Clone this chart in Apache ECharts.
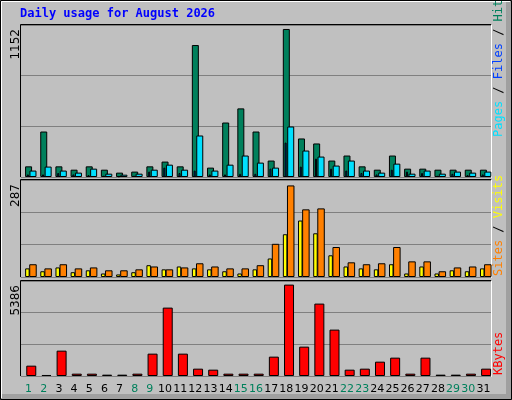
<!DOCTYPE html>
<html><head><meta charset="utf-8">
<script src="https://cdn.jsdelivr.net/npm/echarts@6/dist/echarts.min.js"></script>
<style>html,body{margin:0;padding:0;background:#fff}#c{width:512px;height:400px}</style>
</head><body><div id="c"></div>
<script>
const days = ['1','2','3','4','5','6','7','8','9','10','11','12','13','14','15','16','17','18','19','20','21','22','23','24','25','26','27','28','29','30','31'];
const weekend = ['1','2','8','9','15','16','22','23','29','30'];
const hits = [83,354,83,57,83,57,34,42,83,120,83,1027,73,424,534,354,128,1152,300,261,128,167,83,57,167,65,65,57,57,57,57];
const files = [50,81,50,34,65,26,18,26,57,96,57,323,50,96,167,112,73,393,206,159,89,128,50,34,104,26,50,26,42,34,42];
const pages = [20,20,31,20,15,10,5,10,42,73,31,50,20,20,25,25,65,268,81,143,65,50,31,20,57,42,31,10,25,15,20];
const visits = [40,27,40,27,30,21,21,24,33,24,30,43,33,27,27,37,104,287,212,215,94,46,40,43,94,49,49,18,30,33,40];
const sites = [27,18,30,15,21,11,8,15,37,24,33,27,24,18,11,24,58,134,177,137,68,33,27,24,40,11,33,11,21,18,27];
const kbytes = [609,60,1494,138,138,79,79,138,1317,4030,1317,432,373,138,138,138,1140,5386,1730,4266,2733,373,432,845,1081,138,1081,79,79,138,432];
const maxLabels = ['1152','287','5386'];

const W = 470, L = 21;
const panels = [
  {top:25, h:152, max:1183},
  {top:180, h:97, max:304},
  {top:281, h:95, max:5598}
];
const grids=[], xAxes=[], yAxes=[], series=[];
function addGrid(p, dx, show, xlabels) {
  const i = grids.length;
  grids.push({left:L+dx, top:p.top, width:W, height:p.h, show:false});
  xAxes.push({type:'category', gridIndex:i, data:days, show:!!xlabels,
    axisLine:{show:false}, axisTick:{show:false},
    axisLabel:{show:!!xlabels, interval:0, margin:8, fontFamily:'DejaVu Sans', fontSize:11,
      formatter:v=>weekend.includes(v)?'{w|'+v+'}':v, color:'#000', rich:{w:{color:'#00805c',fontFamily:'DejaVu Sans',fontSize:11}}}});
  yAxes.push({type:'value', gridIndex:i, min:0, max:p.max, interval:p.max/3, show:show,
    axisLine:{show:false}, axisTick:{show:false}, axisLabel:{show:false},
    splitLine:{show:show, lineStyle:{color:'#808080', width:1}}});
  return i;
}
function bar(gi, data, color, w) {
  series.push({type:'bar', xAxisIndex:gi, yAxisIndex:gi, data:data, barWidth:w, barGap:'0%',
    itemStyle:{color:color, borderColor:'#000', borderWidth:1}, animation:false, silent:true});
}
let g = addGrid(panels[0], 0, true, false);
bar(g, hits, '#00805c', 7);
g = addGrid(panels[0], -0.7, false, false); bar(g, pages, '#0040ff', 2);
g = addGrid(panels[0], 4.4, false, false); bar(g, files, '#00e0ff', 7);
g = addGrid(panels[1], 0, true, false);
g = addGrid(panels[1], -1.2, false, false); bar(g, sites, '#ffff00', 4.5);
g = addGrid(panels[1], 4.4, false, false); bar(g, visits, '#ff8000', 7.5);
g = addGrid(panels[2], 2.7, false, false); bar(g, kbytes, '#ff0000', 10);
g = addGrid(panels[2], 0, true, true);

const graphics = [
  {type:'rect', shape:{x:0,y:0,width:512,height:400}, style:{fill:'#c0c0c0'}, z:-10},
  {type:'rect', shape:{x:506,y:0,width:6,height:400}, style:{fill:'#a0a0a0'}, z:-9},
  {type:'rect', shape:{x:0,y:394,width:512,height:6}, style:{fill:'#a0a0a0'}, z:-9},
  {type:'rect', shape:{x:0.5,y:0.5,width:511,height:399}, style:{fill:'none',stroke:'#000',lineWidth:1}, z:-8},
  {type:'polyline', shape:{points:[[1.5,398],[1.5,1.5],[510,1.5]]}, style:{stroke:'#fff',lineWidth:1,fill:'none'}, z:-8},
  {type:'text', x:20, y:8, style:{text:'Daily usage for August 2026', fill:'#0000ff', font:'bold 12px "DejaVu Sans Mono"'}}
];
panels.forEach((p,i)=>{
  graphics.push({type:'rect', shape:{x:L-0.5,y:p.top-0.5,width:W+1,height:p.h+1}, style:{fill:'#c0c0c0'}, z:-5});
  graphics.push({type:'polyline', shape:{points:[[L-0.5,p.top+p.h+0.5],[L-0.5,p.top-0.5],[L+W+0.5,p.top-0.5]]}, style:{stroke:'#000',fill:'none',lineWidth:1}, z:-4});
  graphics.push({type:'polyline', shape:{points:[[L+W+0.5,p.top-0.5],[L+W+0.5,p.top+p.h+0.5],[L-0.5,p.top+p.h+0.5]]}, style:{stroke:'#fff',fill:'none',lineWidth:1}, z:-4});
  graphics.push({type:'text', x:10, y:p.top+4, rotation:Math.PI/2, style:{text:maxLabels[i], fill:'#000', font:'12px "DejaVu Sans"', align:'right', verticalAlign:'top'}});
});
function rightLabel(parts, yBottom) {
  graphics.push({type:'text', x:493, y:yBottom, rotation:Math.PI/2,
    style:{rich:{a:{fill:parts[0][1]},b:{fill:parts[1]?parts[1][1]:'#000'},c:{fill:parts[2]?parts[2][1]:'#000'},s:{fill:'#000'}},
      text: parts.map((p,k)=>'{'+'abc'[k]+'|'+p[0]+'}').join('{s| / }'),
      font:'12px "DejaVu Sans Mono"', align:'left', verticalAlign:'top'}});
}
rightLabel([['Pages','#00e0ff'],['Files','#0040ff'],['Hits','#00805c']], 137);
rightLabel([['Sites','#ff8000'],['Visits','#ffff00']], 276);
rightLabel([['KBytes','#ff0000']], 375);

const chart = echarts.init(document.getElementById('c'), null, {renderer:'canvas'});
chart.setOption({animation:false, grid:grids, xAxis:xAxes, yAxis:yAxes, series:series, graphic:graphics});
</script></body></html>
